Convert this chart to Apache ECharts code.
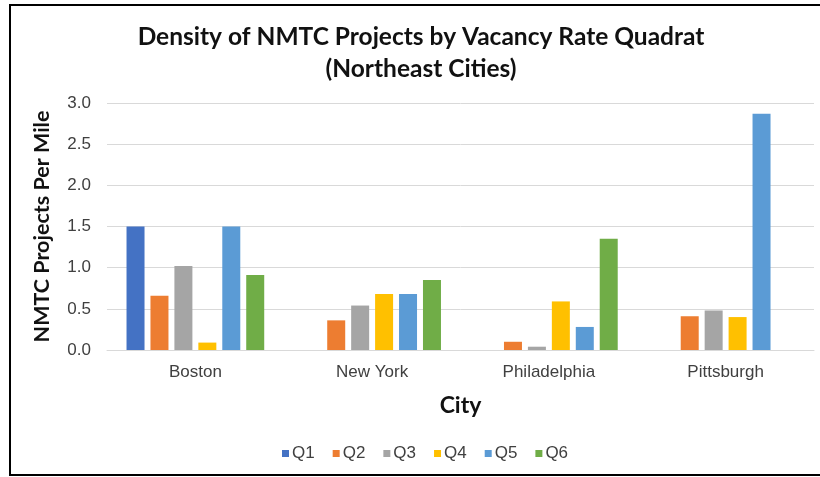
<!DOCTYPE html>
<html><head><meta charset="utf-8">
<script src="https://cdn.jsdelivr.net/npm/echarts@6/dist/echarts.min.js"></script>
<style>html,body{margin:0;padding:0;background:#fff}#c{width:820px;height:477px}</style>
</head><body><div id="c"></div>
<script>
const categories = ["Boston", "New York", "Philadelphia", "Pittsburgh"];
const seriesNames = ["Q1", "Q2", "Q3", "Q4", "Q5", "Q6"];
const q1 = [1.50, 0, 0, 0];
const q2 = [0.66, 0.36, 0.10, 0.41];
const q3 = [1.02, 0.54, 0.04, 0.48];
const q4 = [0.09, 0.68, 0.59, 0.40];
const q5 = [1.50, 0.68, 0.28, 2.87];
const q6 = [0.91, 0.85, 1.35, 0];
const yTicks = [0, 0.5, 1.0, 1.5, 2.0, 2.5, 3.0];
const colors = ["#4472C4", "#ED7D31", "#A5A5A5", "#FFC000", "#5B9BD5", "#70AD47"];
const values = [q1, q2, q3, q4, q5, q6];

const chart = echarts.init(document.getElementById('c'), null, {renderer: 'canvas'});
chart.setOption({
  animation: false,
  color: colors,
  title: {
    text: "Density of NMTC Projects by Vacancy Rate Quadrat\n(Northeast Cities)",
    left: 421, top: 21, textAlign: 'center', padding: 0,
    textStyle: {fontFamily: 'Lato', fontWeight: 'bold', fontSize: 24.5, lineHeight: 32, color: '#111'}
  },
  legend: {
    data: seriesNames, top: 440, left: 277,
    itemWidth: 7, itemHeight: 7, itemGap: 18, icon: 'rect',
    textStyle: {fontFamily: 'Liberation Sans', fontSize: 17, color: '#404040', padding: [0,0,0,-2]}
  },
  graphic: [{
    type: 'rect', shape: {x: 10, y: 5, width: 830, height: 470},
    style: {fill: 'none', stroke: '#000', lineWidth: 2}, silent: true
  }],
  grid: {left: 107, right: 6, top: 103, bottom: 127},
  xAxis: {
    type: 'category', data: categories,
    name: 'City', nameLocation: 'middle', nameGap: 44,
    nameTextStyle: {fontFamily: 'Lato', fontWeight: 'bold', fontSize: 23, color: '#111'},
    axisLine: {lineStyle: {color: '#d9d9d9'}}, axisTick: {show: false},
    axisLabel: {fontFamily: 'Liberation Sans', fontSize: 17, color: '#404040', margin: 14}
  },
  yAxis: {
    type: 'value', min: 0, max: 3, interval: 0.5,
    name: 'NMTC Projects Per Mile', nameLocation: 'middle', nameGap: 54,
    nameTextStyle: {fontFamily: 'Lato', fontWeight: 'bold', fontSize: 21.5, color: '#111'},
    axisLine: {show: false}, axisTick: {show: false},
    splitLine: {lineStyle: {color: '#d9d9d9'}},
    axisLabel: {fontFamily: 'Liberation Sans', fontSize: 17, color: '#404040', margin: 16,
      formatter: v => yTicks.includes(v) ? v.toFixed(1) : ''}
  },
  series: seriesNames.map((n, i) => ({
    name: n, type: 'bar', data: values[i],
    barWidth: 18, barGap: '33%', barCategoryGap: '22%'
  }))
});
</script></body></html>
